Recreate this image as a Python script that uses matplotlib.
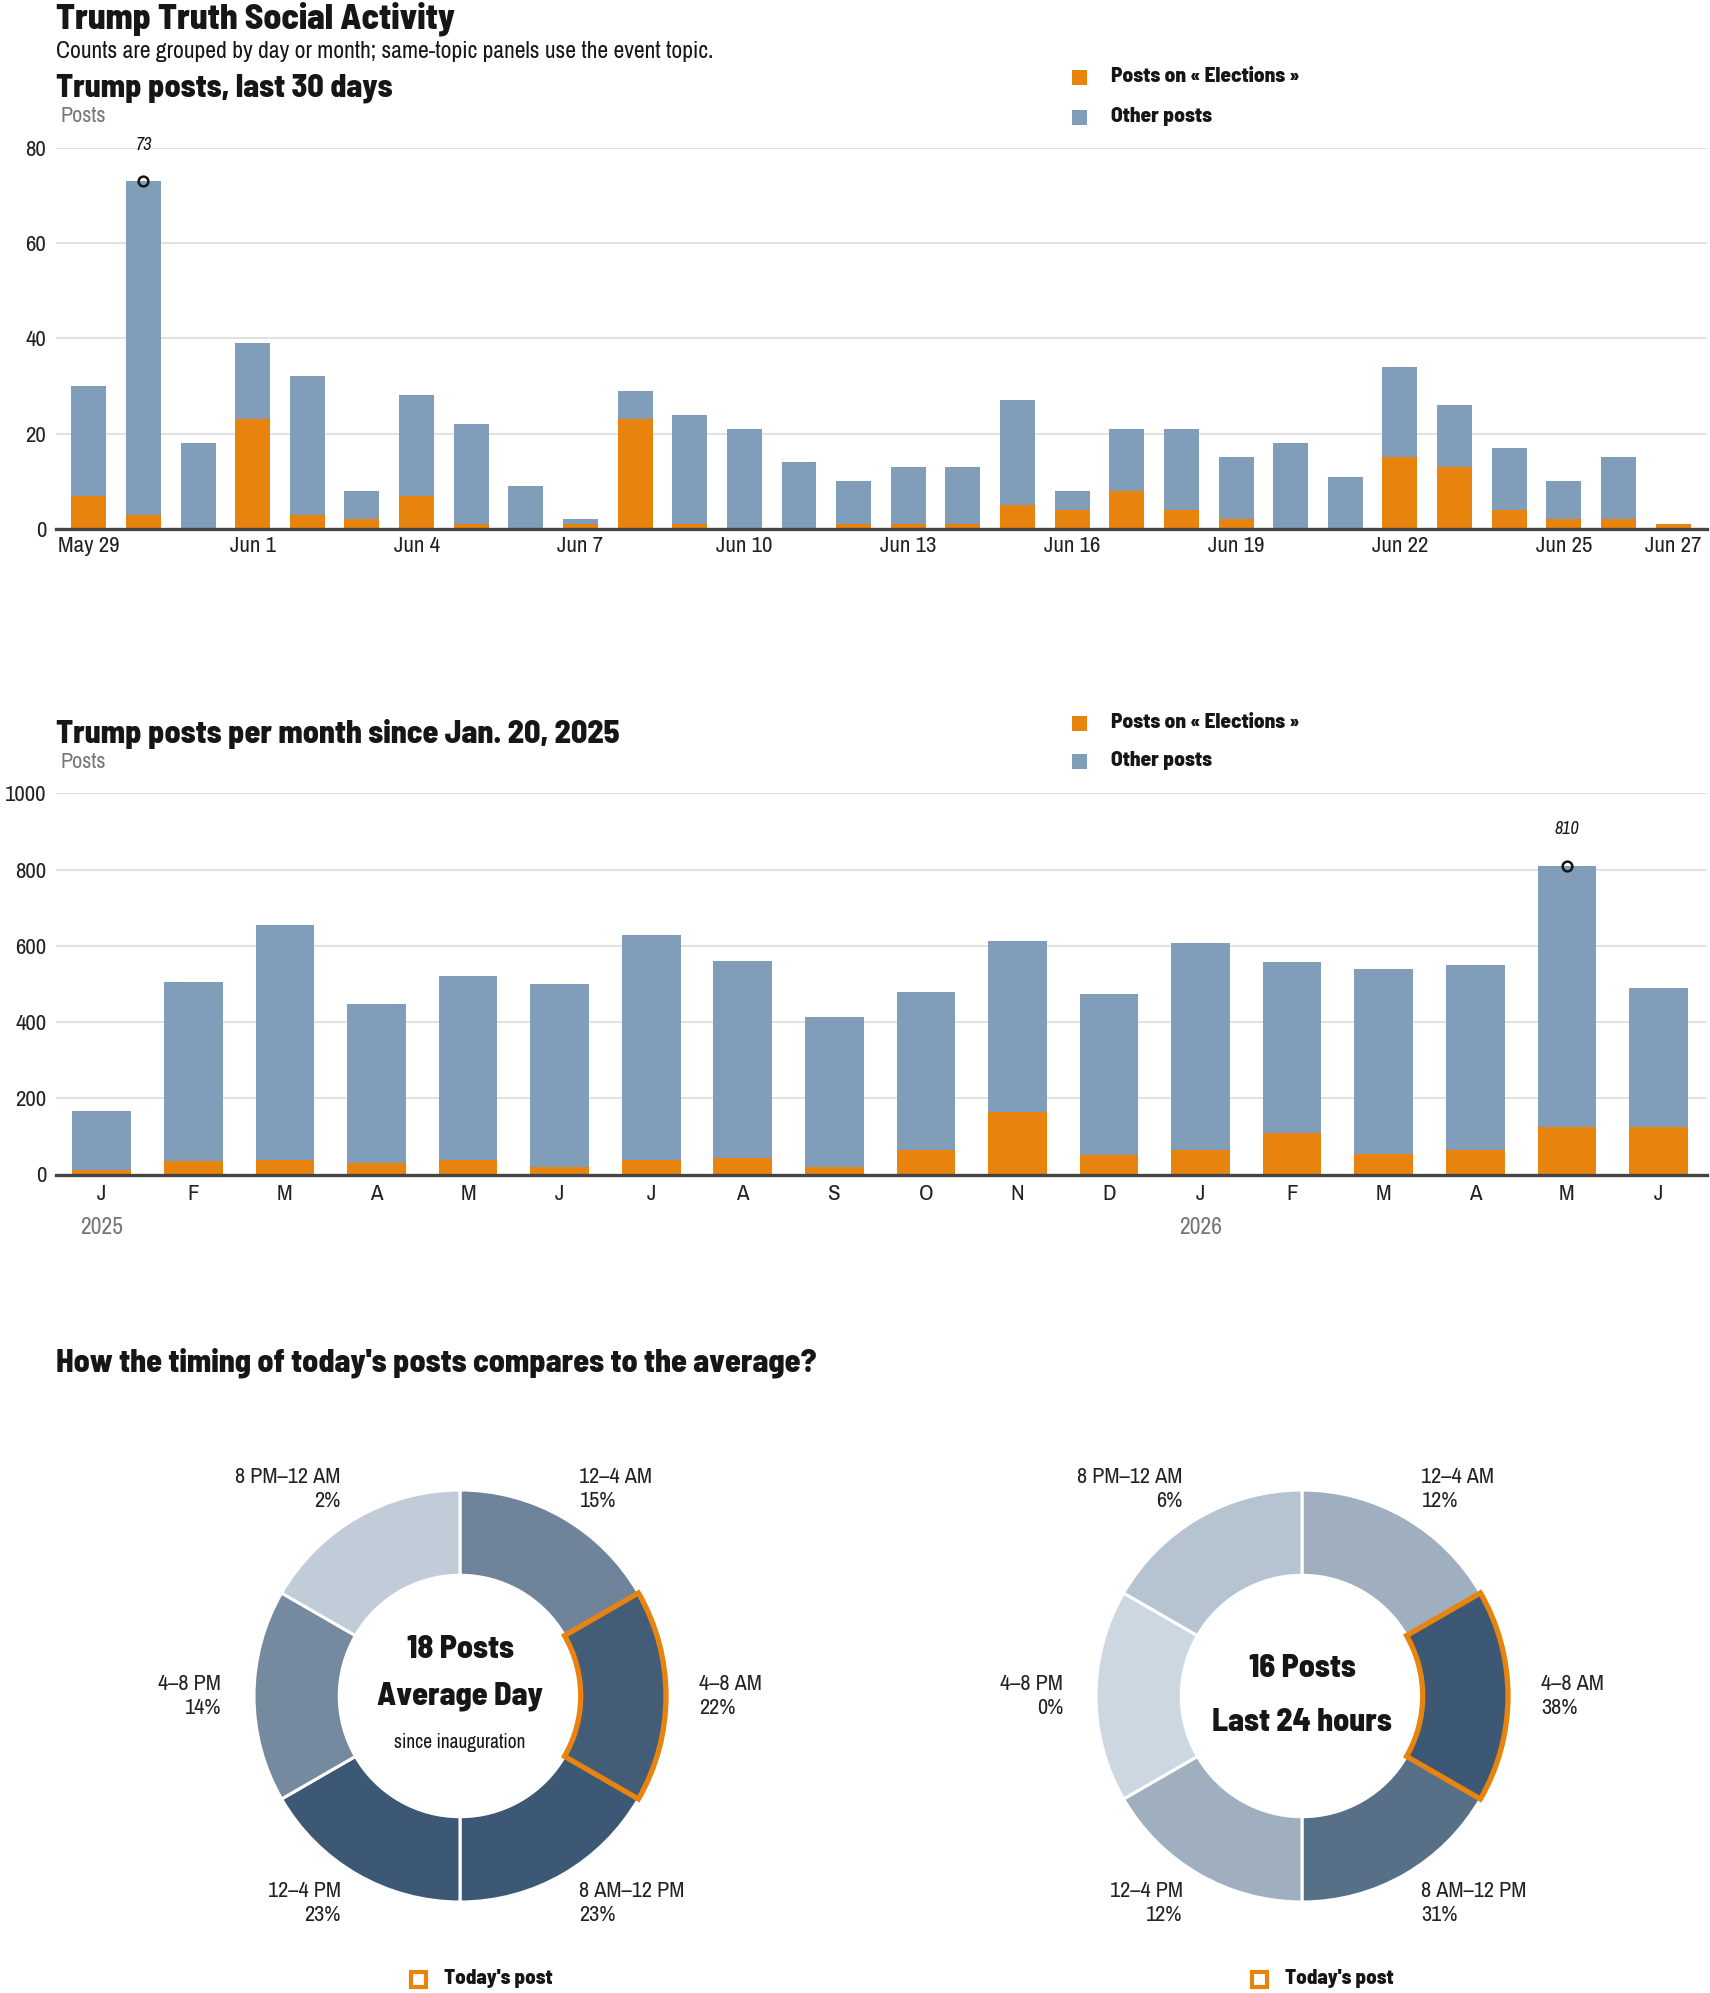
import matplotlib
matplotlib.use("Agg")
import matplotlib.pyplot as plt
import numpy as np
from matplotlib.colors import LinearSegmentedColormap
from matplotlib.patches import Rectangle

# ---- data ----
day_labels = ["May 29", "May 30", "May 31", "Jun 1", "Jun 2", "Jun 3", "Jun 4", "Jun 5",
              "Jun 6", "Jun 7", "Jun 8", "Jun 9", "Jun 10", "Jun 11", "Jun 12", "Jun 13",
              "Jun 14", "Jun 15", "Jun 16", "Jun 17", "Jun 18", "Jun 19", "Jun 20", "Jun 21",
              "Jun 22", "Jun 23", "Jun 24", "Jun 25", "Jun 26", "Jun 27"]
day_total = [30, 73, 18, 39, 32, 8, 28, 22, 9, 2, 29, 24, 21, 14, 10,
             13, 13, 27, 8, 21, 21, 15, 18, 11, 34, 26, 17, 10, 15, 1]
day_elections = [7, 3, 0, 23, 3, 2, 7, 1, 0, 1, 23, 1, 0, 0, 1,
                 1, 1, 5, 4, 8, 4, 2, 0, 0, 15, 13, 4, 2, 2, 1]
day_ticks = [0, 3, 6, 9, 12, 15, 18, 21, 24, 27, 29]

month_labels = ["J", "F", "M", "A", "M", "J", "J", "A", "S", "O", "N", "D",
                "J", "F", "M", "A", "M", "J"]
month_total = [166, 505, 655, 447, 520, 499, 628, 560, 413, 479, 612, 473,
               607, 557, 539, 550, 810, 489]
month_elections = [12, 36, 38, 30, 38, 19, 38, 44, 19, 64, 163, 51,
                   64, 110, 54, 64, 124, 124]
year_starts = [0, 12]
year_names = ["2025", "2026"]

time_slots = ["12–4 AM", "4–8 AM", "8 AM–12 PM", "12–4 PM", "4–8 PM", "8 PM–12 AM"]
avg_share = [15, 22, 23, 23, 14, 2]
last24_share = [12, 38, 31, 12, 0, 6]
avg_posts = 18
last24_posts = 16
today_slot = "4–8 AM"

# ---- style ----
ORANGE = "#e8830e"
BLUE = "#809db9"
GRID = "#dcdcdc"
INK = "#161616"
GRAY = "#777777"
HEAD = ["Barlow Semi Condensed", "Liberation Sans", "DejaVu Sans"]
BODY = ["Archivo Narrow", "Liberation Sans", "DejaVu Sans"]
plt.rcParams["font.family"] = BODY

W, H = 1710, 1993
fig = plt.figure(figsize=(W / 100, H / 100), dpi=100)


def fxy(x, y):
    return x / W, 1 - y / H


def ftext(x, y, s, **kw):
    kw.setdefault("va", "center")
    fig.text(*fxy(x, y), s, **kw)


def fsquare(x, y, size, **kw):
    fx, fy = fxy(x - size / 2, y + size / 2)
    fig.add_artist(Rectangle((fx, fy), size / W, size / H, transform=fig.transFigure, **kw))


def legend(y1, y2):
    fsquare(1079, y1, 15, facecolor=ORANGE, edgecolor="none")
    fsquare(1079, y2, 15, facecolor=BLUE, edgecolor="none")
    ftext(1111, y1 - 1, "Posts on « Elections »", fontsize=15.3, fontweight=800, family=HEAD, color=INK)
    ftext(1111, y2 - 1, "Other posts", fontsize=15.3, fontweight=800, family=HEAD, color=INK)


def style_bars(ax, yticks):
    ax.set_yticks(yticks)
    ax.grid(axis="y", color=GRID, lw=1.2)
    ax.set_axisbelow(True)
    for s in ["top", "right", "left"]:
        ax.spines[s].set_visible(False)
    ax.spines["bottom"].set_color("#444444")
    ax.spines["bottom"].set_linewidth(2.4)
    ax.tick_params(axis="both", length=0, labelsize=16.5, colors="#222222")
    ax.tick_params(axis="y", pad=7)
    ax.tick_params(axis="x", pad=5)


def mark_max(ax, values, offset):
    i = int(np.argmax(values))
    ax.plot(i, values[i], "o", mfc="none", mec=INK, mew=1.8, ms=7, zorder=5)
    ax.annotate(str(values[i]), (i, values[i]), xytext=(0, offset), textcoords="offset points",
                ha="center", va="center", fontsize=13, fontstyle="italic", color=INK)


# ---- header ----
ftext(56, 18.5, "Trump Truth Social Activity", fontsize=25.5, fontweight=800, family=HEAD, color=INK)
ftext(56, 51, "Counts are grouped by day or month; same-topic panels use the event topic.",
      fontsize=17, color=INK)

# ---- daily chart ----
ftext(56, 88, "Trump posts, last 30 days", fontsize=23, fontweight=800, family=HEAD, color=INK)
ftext(60, 116, "Posts", fontsize=16, color=GRAY)
legend(77.6, 117)

ax1 = fig.add_axes([56 / W, 1 - 529 / H, 1651 / W, 381.5 / H])
x = np.arange(len(day_total))
day_other = np.array(day_total) - np.array(day_elections)
ax1.bar(x, day_elections, width=0.64, color=ORANGE, zorder=2)
ax1.bar(x, day_other, bottom=day_elections, width=0.64, color=BLUE, zorder=2)
ax1.set_xlim(-0.6, len(day_total) - 0.38)
ax1.set_ylim(0, 80)
style_bars(ax1, [0, 20, 40, 60, 80])
ax1.set_xticks(day_ticks)
ax1.set_xticklabels([day_labels[i] for i in day_ticks])
mark_max(ax1, day_total, 25.5)

# ---- monthly chart ----
ftext(56, 734, "Trump posts per month since Jan. 20, 2025", fontsize=23, fontweight=800,
      family=HEAD, color=INK)
ftext(60, 762, "Posts", fontsize=16, color=GRAY)
legend(723.4, 761.6)

ax2 = fig.add_axes([56 / W, 1 - 1174.5 / H, 1651 / W, 381.2 / H])
m = np.arange(len(month_total))
month_other = np.array(month_total) - np.array(month_elections)
ax2.bar(m, month_elections, width=0.64, color=ORANGE, zorder=2)
ax2.bar(m, month_other, bottom=month_elections, width=0.64, color=BLUE, zorder=2)
ax2.set_xlim(-0.5, len(month_total) - 0.47)
ax2.set_ylim(0, 1000)
style_bars(ax2, [0, 200, 400, 600, 800, 1000])
ax2.set_xticks(m)
ax2.set_xticklabels(month_labels)
ax2.tick_params(axis="x", pad=7)
for idx, name in zip(year_starts, year_names):
    ax2.text(idx, -0.138, name, transform=ax2.get_xaxis_transform(), ha="center", va="center",
             fontsize=17, color=GRAY)
mark_max(ax2, month_total, 26.5)

# ---- donuts ----
ftext(56, 1363, "How the timing of today's posts compares to the average?", fontsize=23,
      fontweight=800, family=HEAD, color=INK)

cmap = LinearSegmentedColormap.from_list("slots", ["#cdd7e1", "#3d5874"])
R_PX = 206


def donut(cx, cy, shares, lines, sq_x):
    left, right, top, bottom = cx - 400, cx + 400, 1400, H
    ax = fig.add_axes([left / W, 1 - bottom / H, (right - left) / W, (bottom - top) / H])
    top_share = max(shares)
    cols = [cmap(s / top_share) for s in shares]
    wedges, _ = ax.pie([1] * len(shares), radius=1, startangle=90, counterclock=False,
                       colors=cols, wedgeprops=dict(width=0.414, edgecolor="white", linewidth=2.2))
    hl = time_slots.index(today_slot)
    wedges[hl].set_edgecolor(ORANGE)
    wedges[hl].set_linewidth(3.8)
    wedges[hl].set_zorder(3)
    step = 360 / len(shares)
    for k, (slot, share) in enumerate(zip(time_slots, shares)):
        ang = np.deg2rad(90 - step / 2 - step * k)
        lx, ly = 1.16 * np.cos(ang), 1.16 * np.sin(ang)
        ha = "left" if lx > 0.01 else "right"
        ax.text(lx, ly, f"{slot}\n{share}%", ha=ha, va="center", fontsize=16, color="#222222",
                linespacing=1.27)
    for (txt, yy, size, weight, fam) in lines:
        ax.text(0, yy, txt, ha="center", va="center", fontsize=size, fontweight=weight,
                family=fam, color=INK)
    ax.set_xlim((left - cx) / R_PX, (right - cx) / R_PX)
    ax.set_ylim((cy - bottom) / R_PX, (cy - top) / R_PX)
    ax.set_aspect("auto")
    ax.axis("off")
    fsquare(sq_x, 1979, 15, facecolor="none", edgecolor=ORANGE, linewidth=3)
    ftext(sq_x + 26, 1978, "Today's post", fontsize=15, fontweight=800, family=HEAD, color=INK)


donut(460, 1696, avg_share,
      [(f"{avg_posts} Posts", 0.225, 23, 800, HEAD), ("Average Day", 0.0, 23, 800, HEAD),
       ("since inauguration", -0.225, 14, "normal", BODY)], 418)
donut(1302, 1696, last24_share,
      [(f"{last24_posts} Posts", 0.135, 23, 800, HEAD), ("Last 24 hours", -0.13, 23, 800, HEAD)], 1259)

fig.savefig("out.png", dpi=100)
